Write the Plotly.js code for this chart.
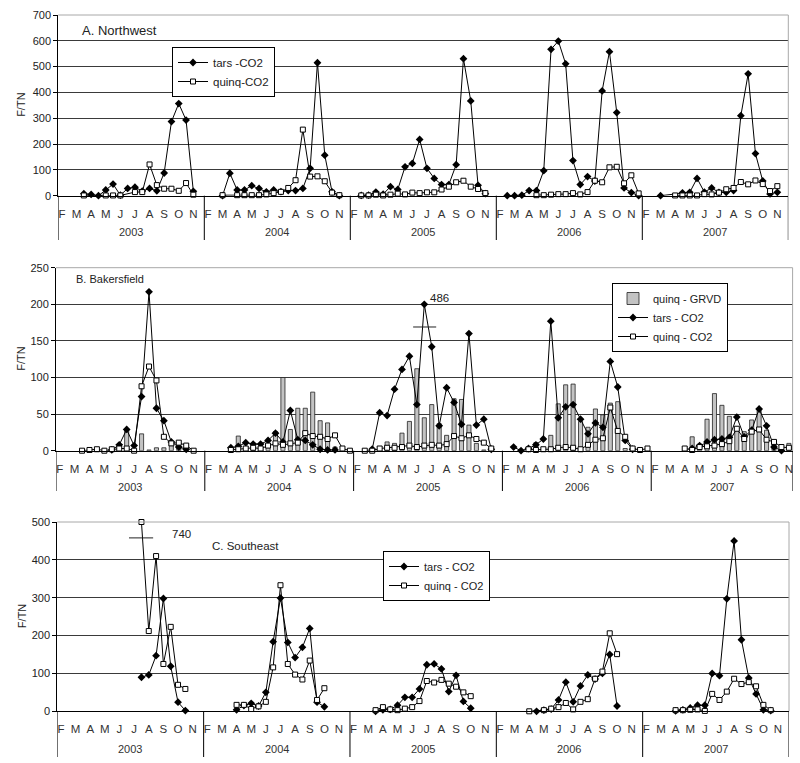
<!DOCTYPE html>
<html><head><meta charset="utf-8">
<script src="https://cdn.plot.ly/plotly-3.0.1.min.js"></script>
<style>html,body{margin:0;padding:0;background:#fff;overflow:hidden}#chart{width:800px;height:763px}</style>
</head><body><div id="chart"></div>
<script>
// ---- categories ----
const months = ['F','M','A','M','J','J','A','S','O','N'];
const years = ['2003','2004','2005','2006','2007'];
const n = null;
// each array: 5 years x 20 half-month slots (Feb1, Feb2, Mar1, ... Nov2)

// A. Northwest
const nwTars = [
 n,n,n,8,5,0,22,45,2,28,33,18,28,19,88,287,357,293,17,n,
 n,n,0,87,22,22,39,28,15,22,16,20,20,28,106,515,157,15,0,n,
 n,1,2,14,6,35,24,112,125,218,106,67,43,43,120,531,367,40,8,n,
 n,0,0,2,20,20,97,567,599,511,136,43,74,57,406,558,322,30,12,0,
 n,n,0,n,n,11,13,67,14,30,13,13,20,310,472,163,57,7,13,n];
const nwQuinq = [
 n,n,n,1,n,n,1,1,1,n,14,14,121,41,27,27,19,49,4,n,
 n,n,2,n,2,2,2,2,5,10,15,30,60,256,74,75,56,12,2,n,
 n,1,1,4,1,4,8,5,12,10,13,13,24,35,52,58,35,26,10,n,
 n,n,n,n,n,2,2,4,6,6,10,5,14,58,52,110,112,48,79,9,
 n,n,n,n,1,1,1,1,6,5,12,25,30,53,44,59,45,18,37,n];

// B. Bakersfield (tars 2005 peak drawn at 200, true value 486)
const bkGrvd = [
 n,n,n,n,n,n,n,n,n,28,n,23,1,4,4,8,6,3,n,n,
 n,n,n,n,20,3,5,6,8,26,100,29,58,58,80,41,38,5,n,n,
 n,n,n,n,12,10,24,40,112,45,63,37,21,71,70,35,10,1,n,n,
 n,n,n,n,11,n,21,64,90,91,40,32,57,49,65,67,3,n,n,n,
 n,n,n,n,n,19,9,43,78,62,47,32,26,42,55,28,12,5,10,n];
const bkTars = [
 n,n,n,n,n,n,n,1,8,29,7,74,217,58,41,12,5,2,n,n,
 n,n,n,4,6,11,9,9,14,24,12,55,15,14,8,2,1,1,n,n,
 n,n,2,52,48,84,111,129,63,200,142,34,86,66,36,160,35,43,2,n,
 n,5,0,3,8,16,177,45,60,63,43,23,38,32,122,87,14,2,n,n,
 n,n,n,n,n,3,7,12,15,16,18,46,19,28,57,34,5,0,n,n];
const bkQuinq = [
 n,n,n,0,1,2,0,2,3,3,0,88,115,96,19,10,11,7,0,n,
 n,n,n,1,2,3,4,3,7,10,8,10,11,24,20,19,16,21,3,0,
 n,0,0,3,4,4,5,7,5,7,8,7,9,20,17,21,16,11,3,n,
 n,n,n,2,1,2,2,4,5,4,2,8,15,17,59,27,19,3,1,3,
 n,n,n,n,3,1,5,6,7,9,13,30,16,26,29,15,12,5,4,n];

// C. Southeast (quinq 2003 peak drawn at 500, true value 740)
const seTars = [
 n,n,n,n,n,n,n,n,n,n,n,90,96,147,298,119,24,2,n,n,
 n,n,n,n,4,15,21,14,50,184,299,182,142,169,219,24,12,n,n,n,
 n,n,n,0,4,5,16,37,37,59,123,125,112,52,95,26,8,n,n,n,
 n,n,n,n,n,0,3,6,30,77,25,67,96,85,100,150,14,n,n,n,
 n,n,n,n,1,4,9,16,16,100,94,297,450,189,88,46,4,2,n,n];
const seQuinq = [
 n,n,n,n,n,n,n,n,n,n,n,500,212,410,125,223,70,59,n,n,
 n,n,n,n,17,17,6,13,25,116,333,125,97,84,134,30,61,n,n,n,
 n,n,n,3,11,5,3,7,11,27,80,76,83,73,65,50,40,n,n,n,
 n,n,n,n,0,n,3,7,11,22,5,25,32,86,105,206,151,n,n,n,
 n,n,n,n,3,3,4,5,1,46,30,52,86,72,77,66,17,3,n,n];

const offscale = [
  {panel:1, values:bkTars, slot:49, label:'486'},
  {panel:2, values:seQuinq, slot:11, label:'740'}
];

// ---- layout geometry (pixels) ----
const W = 800, H = 763, SPY = 20;
const panels = [
  {id:'', left:58.3, right:788.3, top:15, bottom:195.7, slots:100, ymax:700, dtick:100,
   yearY:232, sepBottom:240, title:'A. Northwest', tx:80, ty:30, tsize:13,
   legend:'legend', lx:172, ly:47, lfont:11.5,
   series:[{name:'tars -CO2', kind:'tars', v:nwTars},{name:'quinq-CO2', kind:'quinq', v:nwQuinq}]},
  {id:'2', left:56, right:792.6, top:267.7, bottom:450.7, slots:99, ymax:250, dtick:50,
   yearY:487, sepBottom:491, title:'B. Bakersfield', tx:74, ty:279, tsize:11,
   legend:'legend2', lx:612, ly:283, lfont:11,
   series:[{name:'quinq - GRVD', kind:'bar', v:bkGrvd},{name:'tars - CO2', kind:'tars', v:bkTars},{name:'quinq - CO2', kind:'quinq', v:bkQuinq}]},
  {id:'3', left:57.3, right:789, top:522, bottom:711.3, slots:100, ymax:500, dtick:100,
   yearY:749, sepBottom:757, title:'C. Southeast', tx:210, ty:546, tsize:11.5,
   legend:'legend3', lx:383, ly:551, lfont:11,
   series:[{name:'tars - CO2', kind:'tars', v:seTars},{name:'quinq - CO2', kind:'quinq', v:seQuinq}]}
];
const px = x => x / W, py = y => 1 - y / H;

const data = [], shapes = [], annotations = [];
const layout = {
  width: W, height: H, margin:{l:0,r:0,t:0,b:0},
  paper_bgcolor:'#fff', plot_bgcolor:'#fff',
  font:{family:'Liberation Sans, Arial, sans-serif', color:'#222', size:11},
  showlegend:true, bargap:0
};

panels.forEach((p, pi) => {
  const xa = 'x' + p.id, ya = 'y' + p.id;
  const tickvals = [], ticktext = [];
  for (let k = 0; k < p.slots; k += 2) { tickvals.push(k); ticktext.push(months[(k % SPY) / 2]); }
  const yt = [];
  for (let v = 0; v <= p.ymax; v += p.dtick) yt.push(v);
  layout['xaxis' + p.id] = {
    domain:[px(p.left), px(p.right)], anchor: ya, range:[-0.5, p.slots - 0.5],
    tickmode:'array', tickvals, ticktext, ticks:'', showgrid:false, zeroline:false,
    showline:true, linecolor:'#000', linewidth:1, tickfont:{size:11.5, color:'#333'},
    ticklabelstandoff:7, fixedrange:true
  };
  layout['yaxis' + p.id] = {
    domain:[py(p.bottom), py(p.top)], anchor: xa, range:[0, p.ymax],
    tickmode:'array', tickvals: yt, ticks:'outside', ticklen:4, tickcolor:'#000',
    showgrid:true, gridcolor:'#3a3a3a', gridwidth:1, zeroline:false,
    showline:true, linecolor:'#000', linewidth:1, tickfont:{size:11, color:'#222'},
    fixedrange:true
  };
  layout[p.legend] = {
    x: px(p.lx), y: py(p.ly), xanchor:'left', yanchor:'top',
    bgcolor:'#fff', bordercolor:'#000', borderwidth:1,
    font:{size:p.lfont, color:'#222'}, itemwidth:30, tracegroupgap:0, traceorder:'normal'
  };

  p.series.forEach(s => {
    if (s.kind === 'bar') {
      const xs = [], ys = [];
      s.v.forEach((v, k) => { if (v !== null && k < p.slots) { xs.push(k); ys.push(v); } });
      data.push({type:'bar', x:xs, y:ys, xaxis:xa, yaxis:ya, name:s.name, legend:p.legend,
        width:0.55, marker:{color:'#c3c3c3', line:{color:'#222', width:0.8}}, hoverinfo:'skip'});
      return;
    }
    let first = true;
    years.forEach((yr, yi) => {
      const xs = [], ys = [];
      for (let j = 0; j < SPY; j++) {
        const k = yi * SPY + j, v = s.v[k];
        if (v !== null && k < p.slots) { xs.push(k); ys.push(v); }
      }
      if (!xs.length) return;
      const tr = {type:'scatter', mode:'lines+markers', x:xs, y:ys, xaxis:xa, yaxis:ya,
        name:s.name, legendgroup:p.legend + s.name, showlegend:first, legend:p.legend,
        cliponaxis:false, line:{color:'#000', width:1}, hoverinfo:'skip'};
      tr.marker = s.kind === 'tars'
        ? {symbol:'diamond', size:6, color:'#000'}
        : {symbol:'square', size:5, color:'#fff', line:{color:'#000', width:1}};
      data.push(tr);
      first = false;
    });
  });

  // plot-area border (top, right) in light gray
  shapes.push({type:'line', xref:'paper', yref:'paper', x0:px(p.left), x1:px(p.right), y0:py(p.top), y1:py(p.top), line:{color:'#a8a8a8', width:1}});
  shapes.push({type:'line', xref:'paper', yref:'paper', x0:px(p.right), x1:px(p.right), y0:py(p.top), y1:py(p.bottom), line:{color:'#a8a8a8', width:1}});
  // year separators below the axis
  for (let i = 0; i <= years.length; i++) {
    const xv = Math.min(i * SPY, p.slots) - 0.5;
    shapes.push({type:'line', xref:xa, yref:'paper', x0:xv, x1:xv, y0:py(p.bottom), y1:py(p.sepBottom), line:{color:'#000', width:1}});
  }
  years.forEach((yr, yi) => {
    const a = yi * SPY, b = Math.min(a + SPY - 1, p.slots - 1);
    annotations.push({xref:xa, yref:'paper', x:(a + b) / 2, y:py(p.yearY), text:yr, showarrow:false, font:{size:11, color:'#333'}, xanchor:'center', yanchor:'middle'});
  });
  annotations.push({xref:'paper', yref:'paper', x:px(p.tx), y:py(p.ty), text:p.title, showarrow:false, xanchor:'left', yanchor:'middle', font:{size:p.tsize, color:'#222'}});
  annotations.push({xref:'paper', yref:'paper', x:px(21.5), y:py((p.top + p.bottom) / 2), text:'F/TN', textangle:-90, showarrow:false, xanchor:'center', yanchor:'middle', font:{size:11, color:'#222'}});
});

// off-scale markers: break tick and true value label
offscale.forEach(o => {
  const p = panels[o.panel], xa = 'x' + p.id, ya = 'y' + p.id;
  const v = o.values[o.slot];
  const brk = o.panel === 1 ? {dx0:-1.5, dx1:1.6, dy:-31, lx:2.1, ly:9} : {dx0:-1.7, dx1:1.6, dy:-42, lx:5.5, ly:-32};
  shapes.push({type:'line', xref:xa, yref:ya, x0:o.slot + brk.dx0, x1:o.slot + brk.dx1, y0:v + brk.dy, y1:v + brk.dy, line:{color:'#222', width:1}});
  annotations.push({xref:xa, yref:ya, x:o.slot + brk.lx, y:v + brk.ly, text:o.label, showarrow:false, xanchor:'center', yanchor:'middle', font:{size:11.5, color:'#222'}});
});

layout.shapes = shapes;
layout.annotations = annotations;
Plotly.newPlot('chart', data, layout, {displayModeBar:false, staticPlot:true});
</script></body></html>
